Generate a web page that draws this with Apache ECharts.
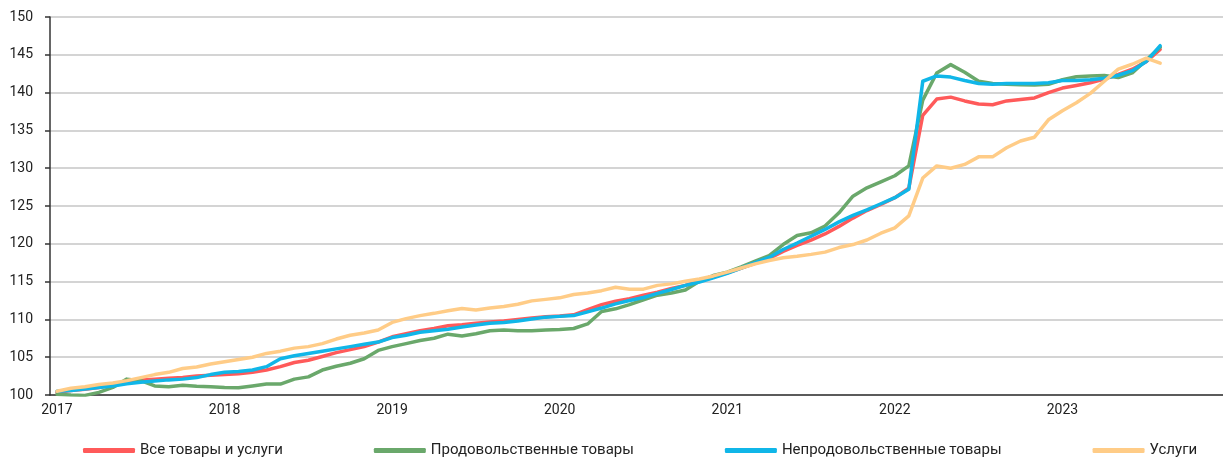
<!DOCTYPE html>
<html>
<head>
<meta charset="utf-8">
<script src="https://cdn.jsdelivr.net/npm/echarts@6/dist/echarts.min.js"></script>
<style>
  html, body { margin: 0; padding: 0; background: #fff; }
  #container { width: 1223px; height: 459px; }
</style>
</head>
<body>
<div id="container"></div>
<script>
// months Jan 2017 .. Dec 2023, data runs Jan 2017 .. Aug 2023
var months = [];
for (var y = 2017; y <= 2023; y++) {
    for (var m = 1; m <= 12; m++) {
        months.push(y + '-' + (m < 10 ? '0' + m : m));
    }
}

var seriesNames = ['Все товары и услуги', 'Продовольственные товары', 'Непродовольственные товары', 'Услуги'];

var allGoods = [
    100.35, 100.6, 100.75, 101.0, 101.4, 101.7, 102.0, 102.1, 102.2, 102.3, 102.5, 102.6,
    102.7, 102.8, 103.0, 103.3, 103.75, 104.3, 104.6, 105.1, 105.6, 106.0, 106.4, 107.0,
    107.7, 108.1, 108.5, 108.8, 109.15, 109.3, 109.5, 109.65, 109.8, 110.0, 110.2, 110.35,
    110.45, 110.6, 111.3, 111.95, 112.4, 112.75, 113.2, 113.6, 114.1, 114.5, 115.05, 115.6,
    116.15, 116.8, 117.4, 118.05, 119.0, 119.8, 120.5, 121.3, 122.3, 123.4, 124.4, 125.2,
    126.1, 127.35, 137.0, 139.15, 139.4, 138.9, 138.5, 138.4, 138.9, 139.1, 139.3, 140.0,
    140.6, 140.95, 141.3, 141.8, 142.4, 143.1, 144.1, 145.7
];

var food = [
    100.1, 100.0, 99.95, 100.35, 101.0, 102.1, 101.9, 101.2, 101.1, 101.3, 101.15, 101.1,
    101.0, 100.95, 101.2, 101.45, 101.45, 102.1, 102.4, 103.3, 103.8, 104.2, 104.8, 105.9,
    106.4, 106.8, 107.2, 107.5, 108.05, 107.8, 108.1, 108.5, 108.6, 108.5, 108.5, 108.6,
    108.65, 108.8, 109.4, 111.05, 111.4, 111.95, 112.6, 113.2, 113.5, 113.9, 115.05, 115.8,
    116.25, 116.95, 117.7, 118.45, 119.9, 121.1, 121.45, 122.35, 124.1, 126.3, 127.4, 128.2,
    129.0, 130.3, 139.0, 142.6, 143.7, 142.7, 141.5, 141.2, 141.1, 141.05, 141.0, 141.1,
    141.7, 142.1, 142.2, 142.25, 142.0, 142.6, 144.3, 146.0
];

var nonFood = [
    100.5, 100.6, 100.8, 101.0, 101.2, 101.5, 101.7, 101.85, 102.0, 102.1, 102.3, 102.7,
    103.0, 103.1, 103.3, 103.75, 104.8, 105.2, 105.5, 105.8, 106.1, 106.4, 106.7, 107.0,
    107.6, 107.9, 108.3, 108.5, 108.7, 109.0, 109.25, 109.5, 109.6, 109.8, 110.05, 110.3,
    110.4, 110.5, 111.0, 111.5, 112.05, 112.5, 112.9, 113.45, 113.95, 114.5, 114.95, 115.5,
    116.1, 116.8, 117.5, 118.2, 119.25, 120.1, 121.0, 121.9, 122.9, 123.75, 124.5, 125.3,
    126.1, 127.2, 141.5, 142.2, 142.05, 141.6, 141.2, 141.1, 141.2, 141.2, 141.2, 141.3,
    141.6, 141.6, 141.7, 141.9, 142.3, 142.9, 144.1, 146.2
];

var services = [
    100.5, 100.9, 101.1, 101.4, 101.6, 101.9, 102.3, 102.7, 103.0, 103.5, 103.7, 104.1,
    104.4, 104.7, 105.0, 105.5, 105.8, 106.2, 106.4, 106.8, 107.4, 107.9, 108.2, 108.6,
    109.6, 110.1, 110.5, 110.8, 111.15, 111.45, 111.25, 111.5, 111.7, 112.0, 112.45, 112.65,
    112.85, 113.3, 113.5, 113.8, 114.25, 114.0, 114.0, 114.5, 114.7, 115.05, 115.35, 115.75,
    116.25, 116.8, 117.35, 117.8, 118.15, 118.35, 118.6, 118.9, 119.5, 119.9, 120.5, 121.4,
    122.1, 123.7, 128.7, 130.3, 130.0, 130.5, 131.5, 131.5, 132.7, 133.6, 134.1, 136.4,
    137.6, 138.65, 139.9, 141.5, 143.1, 143.75, 144.55, 143.9
];

var colors = ['#ff5a5a', '#6aa86b', '#10b6e8', '#ffcc87'];

var dom = document.getElementById('container');
var myChart = echarts.init(dom);

function isYearStart(index) {
    return index % 12 === 0;
}

function makeLine(name, data, color) {
    return {
        name: name,
        type: 'line',
        data: data,
        symbol: 'none',
        smooth: false,
        lineStyle: { width: 3.5, color: color, cap: 'round', join: 'round' },
        itemStyle: { color: color }
    };
}

var option = {
    animation: false,
    textStyle: { fontFamily: 'Roboto' },
    grid: { left: 50, right: 0, top: 17, bottom: 64 },
    legend: {
        left: 83,
        bottom: 1,
        padding: 0,
        itemGap: 91,
        itemWidth: 52,
        itemHeight: 5,
        icon: 'roundRect',
        textStyle: { fontSize: 15, color: '#222' },
        data: seriesNames
    },
    xAxis: {
        type: 'category',
        data: months,
        boundaryGap: true,
        axisLine: { lineStyle: { color: '#333', width: 1.5 } },
        axisTick: { interval: isYearStart, length: 5, lineStyle: { color: '#333', width: 1.5 } },
        axisLabel: {
            interval: isYearStart,
            margin: 8,
            fontSize: 14,
            color: '#222',
            formatter: function (v) { return v.slice(0, 4); }
        },
        splitLine: { show: false }
    },
    yAxis: {
        type: 'value',
        min: 100,
        max: 150,
        interval: 5,
        axisLine: { show: true, lineStyle: { color: '#333', width: 1.5 } },
        axisTick: { show: true, length: 5, lineStyle: { color: '#333', width: 1.5 } },
        axisLabel: { margin: 17, fontSize: 14, color: '#222' },
        splitLine: { lineStyle: { color: '#c6c6c6', width: 1.5 } }
    },
    series: [
        makeLine(seriesNames[0], allGoods, colors[0]),
        makeLine(seriesNames[1], food, colors[1]),
        makeLine(seriesNames[2], nonFood, colors[2]),
        makeLine(seriesNames[3], services, colors[3])
    ]
};

myChart.setOption(option);
</script>
</body>
</html>
